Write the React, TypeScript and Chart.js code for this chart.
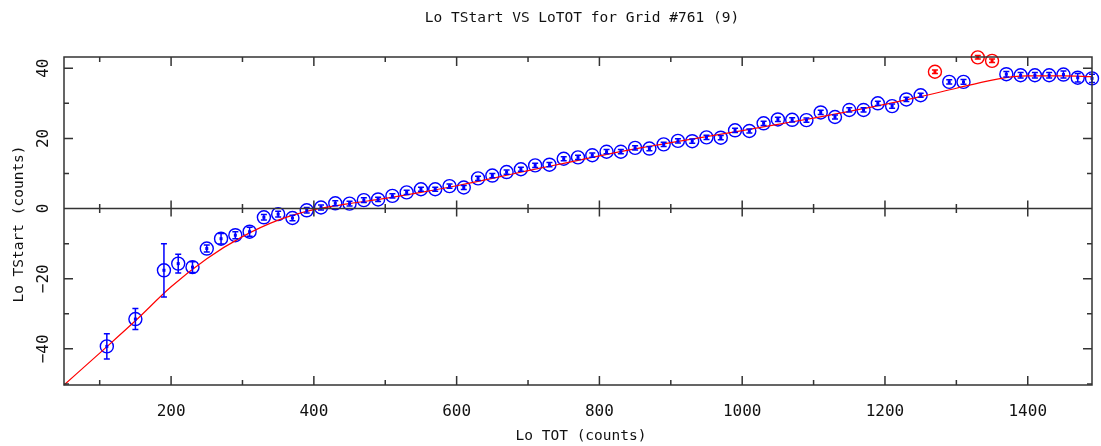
import React, { useEffect, useRef } from "react";
import { Chart, registerables } from "chart.js";

Chart.register(...registerables);

const titleText = "Lo TStart VS LoTOT for Grid #761 (9)";
const xTitle = "Lo TOT (counts)";
const yTitle = "Lo TStart (counts)";

const blueX = [110,150,190,210,230,250,270,290,310,330,350,370,390,410,430,450,470,490,510,530,550,570,590,610,630,650,670,690,710,730,750,770,790,810,830,850,870,890,910,930,950,970,990,1010,1030,1050,1070,1090,1110,1130,1150,1170,1190,1210,1230,1250,1290,1310,1370,1390,1410,1430,1450,1470,1490];
const blueY = [-39.3,-31.5,-17.6,-15.7,-16.7,-11.4,-8.6,-7.6,-6.6,-2.5,-1.6,-2.7,-0.5,0.3,1.5,1.4,2.4,2.6,3.6,4.6,5.5,5.5,6.4,6.0,8.6,9.4,10.4,11.2,12.3,12.5,14.2,14.6,15.2,16.2,16.2,17.3,17.1,18.3,19.3,19.2,20.3,20.2,22.3,22.1,24.3,25.4,25.3,25.2,27.4,26.1,28.1,28.1,30.0,29.2,31.1,32.3,36.1,36.1,38.3,38.0,38.0,38.0,38.2,37.3,37.1];
const blueErr = [3.6,3.0,7.6,2.7,1.5,1.0,1.5,1.0,1.3,0.8,0.8,0.8,0.8,0.7,0.7,0.7,0.7,0.6,0.6,0.6,0.6,0.6,0.6,0.6,0.6,0.6,0.6,0.6,0.6,0.6,0.6,0.6,0.6,0.6,0.6,0.6,0.6,0.6,0.6,0.6,0.6,0.6,0.6,0.6,0.6,0.6,0.6,0.6,0.6,0.6,0.6,0.6,0.6,0.6,0.6,0.6,0.6,0.7,0.8,0.8,0.8,0.8,1.0,1.2,1.2];

const redX = [1270,1330,1350];
const redY = [39.0,43.1,42.1];
const redErr = [0.5,0.5,0.5];

const fitX = [50,100,150,200,250,300,350,400,450,500,550,600,650,700,750,800,850,900,950,1000,1050,1100,1150,1200,1250,1300,1350,1380,1400,1450,1490];
const fitY = [-50.3,-41.2,-32.0,-22.3,-14.3,-8.0,-3.3,-0.3,1.4,2.9,4.6,6.5,8.6,10.8,12.9,15.0,17.0,18.8,20.5,22.2,24.0,25.8,27.7,29.7,31.9,34.3,36.6,37.6,37.8,37.8,37.6];

const xMajorTicks = [200,400,600,800,1000,1200,1400];
const xMinorTicks = [100,300,500,700,900,1100,1300];
const yMajorTicks = [-40,-20,0,20,40];
const yMinorTicks = [-50,-30,-10,10,30];

const TEXT_FONT = '14.5px "DejaVu Sans Mono"';
const TICK_FONT = '16px "DejaVu Sans Mono"';

const framePlugin = {
  id: "framePlugin",
  afterDatasetsDraw(chart: any) {
    const ctx = chart.ctx;
    const xs = chart.scales.x;
    const ys = chart.scales.y;
    ctx.save();
    chart.data.datasets.forEach((ds: any) => {
      if (!ds.errors) return;
      ctx.strokeStyle = ds.borderColor;
      ctx.fillStyle = ds.borderColor;
      ctx.lineWidth = 1.5;
      ds.data.forEach((p: any, i: number) => {
        const px = xs.getPixelForValue(p.x);
        const py = ys.getPixelForValue(p.y);
        const e = ds.errors[i];
        const top = ys.getPixelForValue(p.y + e);
        const bot = ys.getPixelForValue(p.y - e);
        ctx.beginPath();
        ctx.moveTo(px, top);
        ctx.lineTo(px, bot);
        ctx.moveTo(px - 3, top);
        ctx.lineTo(px + 3, top);
        ctx.moveTo(px - 3, bot);
        ctx.lineTo(px + 3, bot);
        ctx.stroke();
        ctx.fillRect(px - 1.5, py - 1.5, 3, 3);
      });
    });
    ctx.restore();
  },
  afterDraw(chart: any) {
    const ctx = chart.ctx;
    const xs = chart.scales.x;
    const ys = chart.scales.y;
    const a = chart.chartArea;
    ctx.save();
    ctx.strokeStyle = "#333";
    ctx.lineWidth = 1.5;
    ctx.strokeRect(a.left, a.top, a.right - a.left, a.bottom - a.top);
    ctx.beginPath();
    const y0 = ys.getPixelForValue(0);
    ctx.moveTo(a.left, y0);
    ctx.lineTo(a.right, y0);
    const xt = (v: number, len: number, zl: number) => {
      const px = xs.getPixelForValue(v);
      ctx.moveTo(px, a.bottom);
      ctx.lineTo(px, a.bottom - len);
      ctx.moveTo(px, a.top);
      ctx.lineTo(px, a.top + len);
      ctx.moveTo(px, y0 - zl);
      ctx.lineTo(px, y0 + zl);
    };
    xMajorTicks.forEach((v) => xt(v, 9, 8));
    xMinorTicks.forEach((v) => xt(v, 5, 4.5));
    const yt = (v: number, len: number) => {
      const py = ys.getPixelForValue(v);
      ctx.moveTo(a.left, py);
      ctx.lineTo(a.left + len, py);
      ctx.moveTo(a.right, py);
      ctx.lineTo(a.right - len, py);
    };
    yMajorTicks.forEach((v) => yt(v, 9));
    yMinorTicks.forEach((v) => yt(v, 5));
    ctx.stroke();

    ctx.fillStyle = "#111";
    ctx.textAlign = "center";
    ctx.textBaseline = "middle";
    ctx.font = TICK_FONT;
    xMajorTicks.forEach((v) => {
      ctx.fillText(String(v), xs.getPixelForValue(v), 412);
    });
    yMajorTicks.forEach((v) => {
      ctx.save();
      ctx.translate(44, ys.getPixelForValue(v));
      ctx.rotate(-Math.PI / 2);
      ctx.fillText(String(v).replace("-", "\u2212"), 0, 0);
      ctx.restore();
    });
    ctx.font = TEXT_FONT;
    ctx.fillText(xTitle, (a.left + a.right) / 2 + 3, 436);
    ctx.fillText(titleText, 582, 18);
    ctx.save();
    ctx.translate(19, 224);
    ctx.rotate(-Math.PI / 2);
    ctx.fillText(yTitle, 0, 0);
    ctx.restore();
    ctx.restore();
  },
};

export default function App() {
  const ref = useRef<HTMLCanvasElement | null>(null);
  useEffect(() => {
    document.body.style.margin = "0";
    if (!ref.current) return;
    const chart = new Chart(ref.current, {
      type: "scatter",
      data: {
        datasets: [
          {
            type: "line",
            data: fitX.map((x, i) => ({ x, y: fitY[i] })),
            borderColor: "#ff0000",
            borderWidth: 1.2,
            pointRadius: 0,
            cubicInterpolationMode: "monotone",
            fill: false,
            order: 0,
          } as any,
          {
            data: blueX.map((x, i) => ({ x, y: blueY[i] })),
            errors: blueErr,
            borderColor: "#0000ff",
            backgroundColor: "rgba(0,0,0,0)",
            pointRadius: 6.5,
            borderWidth: 1.4,
            order: 1,
          } as any,
          {
            data: redX.map((x, i) => ({ x, y: redY[i] })),
            errors: redErr,
            borderColor: "#ff0000",
            backgroundColor: "rgba(0,0,0,0)",
            pointRadius: 6.5,
            borderWidth: 1.4,
            order: 1,
          } as any,
        ],
      },
      options: {
        animation: false,
        responsive: false,
        maintainAspectRatio: false,
        clip: false as any,
        layout: { padding: { left: 64, top: 57, right: 9, bottom: 61 } },
        plugins: { legend: { display: false }, tooltip: { enabled: false }, title: { display: false } },
        scales: {
          x: { type: "linear", display: false, min: 50, max: 1490 },
          y: { type: "linear", display: false, min: -50.3, max: 43.2 },
        },
      },
      plugins: [framePlugin],
    });
    return () => chart.destroy();
  }, []);
  return (
    <div style={{ width: 1101, height: 446, background: "#fff" }}>
      <canvas ref={ref} width={1101} height={446} style={{ display: "block" }} />
    </div>
  );
}
